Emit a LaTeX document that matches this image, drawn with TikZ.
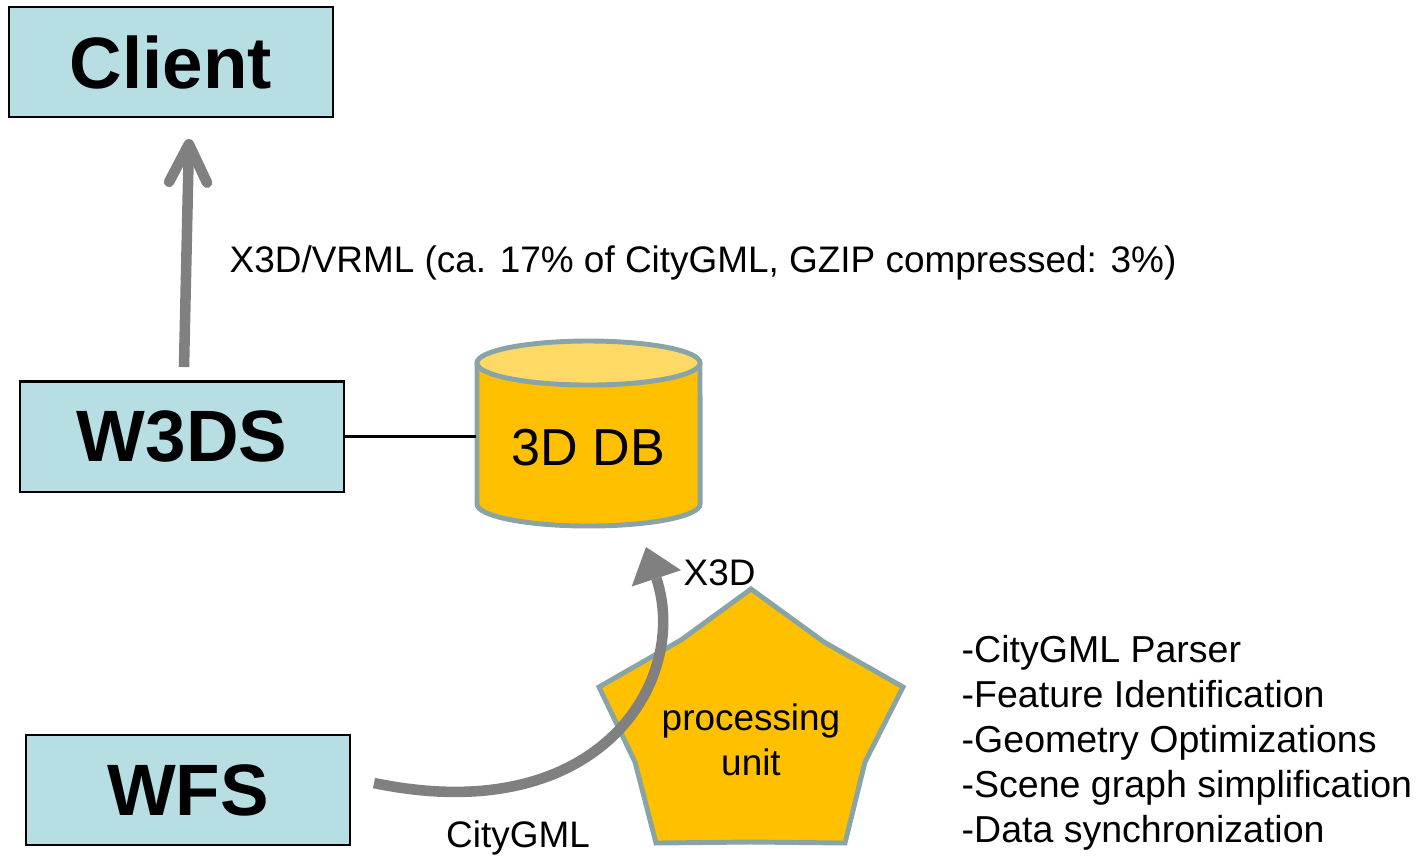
\documentclass[tikz,border=0pt]{standalone}
\usepackage{fontspec}
\setmainfont{Liberation Sans}
\usepackage{xcolor}
\usetikzlibrary{arrows.meta,positioning}
\definecolor{box-blue}{RGB}{183,222,226}
\definecolor{db-body}{RGB}{255,192,0}
\definecolor{db-top}{RGB}{255,217,102}
\definecolor{rim-grey}{RGB}{137,164,166}
\definecolor{flow-grey}{RGB}{128,128,128}
\tikzstyle{service}=[draw, fill=box-blue, line width=0.6pt, minimum width=3.24cm, minimum height=1.1cm, inner sep=0pt, font=\fontsize{20.7}{24}\selectfont\bfseries]
\tikzstyle{note}=[inner sep=0pt, font=\fontsize{10.5}{12.8}\selectfont]
\tikzstyle{rim}=[draw=rim-grey, line width=1.4pt]
\tikzstyle{flow}=[draw=flow-grey, line width=3pt]

\begin{document}
\begin{tikzpicture}[x=0.01cm, y=-0.01cm]
	\useasboundingbox (0,0) rectangle (1421,859);
	% services
	\node[service] (client) at (171,62) {Client};
	\node[service] (w3ds) at (182,436.5) {W3DS};
	\node[service] (wfs) at (188,790) {WFS};
	% database cylinder
	\fill[db-body] (477,363) rectangle (700,504);
	\fill[db-body] (588.5,504) ellipse [x radius=1.115cm, y radius=0.22cm];
	\draw[rim] (477,363) -- (477,504) arc[start angle=180, end angle=360, x radius=1.115cm, y radius=0.22cm] -- (700,363);
	\draw[rim, fill=db-top] (588.5,363) ellipse [x radius=1.115cm, y radius=0.22cm];
	\node[note, font=\fontsize{14.8}{17}\selectfont, minimum width=2.23cm, minimum height=1.2cm] (db) at (588.5,448) {3D DB};
	\draw[line width=0.6pt] (w3ds.east) -- (w3ds.east -| db.west);
	% delivery to the client
	\coordinate (upfrom) at (184,367);
	\coordinate (upto) at (189,139);
	\draw[flow, -{Straight Barb[length=3.8mm, width=3.8mm, round]}] (upfrom) -- (upto);
	\node[note, anchor=west] (vrml) at (229,263) {X3D/VRML (ca. 17\% of CityGML, GZIP compressed: 3\%)};
	% processing unit
	\draw[rim, fill=db-body] (751,589) -- (824,642) -- (903,687) -- (865,762) -- (845,843) -- (751,842) -- (656,843) -- (635,762) -- (599,687) -- (681,640) -- cycle;
	\node[note, align=center] (pu) at (751,740) {processing\\unit};
	\coordinate (cgfrom) at (374,783);
	\coordinate (cgto) at (646,547);
	\draw[flow, -{Triangle[length=3.3mm, width=5.2mm, line width=0pt]}] (cgfrom) .. controls (600,830) and (690,680) .. (cgto);
	\node[note, anchor=west] (x3d) at (683,573) {X3D};
	\node[note] (citygml) at (518,838) {CityGML};
	\node[note, anchor=west, align=left, font=\fontsize{10.67}{12.8}\selectfont] (steps) at (961,743) {-CityGML Parser\\-Feature Identification\\-Geometry Optimizations\\-Scene graph simplification\\-Data synchronization};
\end{tikzpicture}
\end{document}
